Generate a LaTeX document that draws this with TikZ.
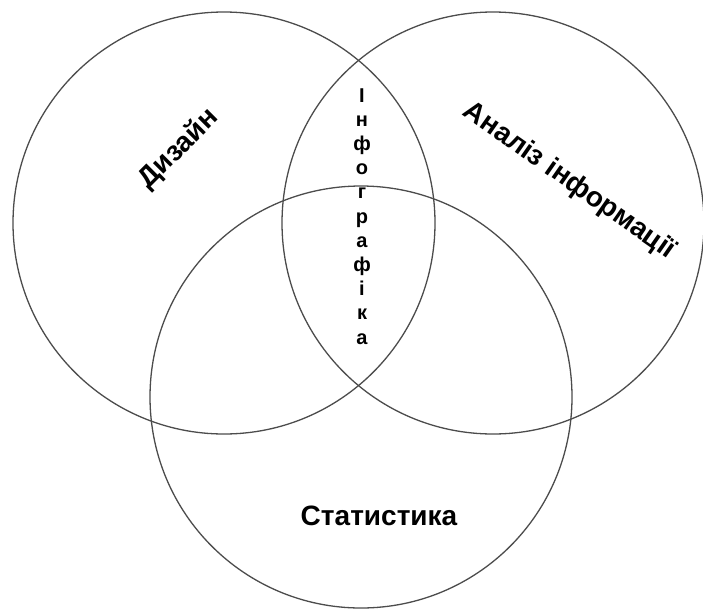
\documentclass[tikz,border=0pt]{standalone}
\usepackage{fontspec}
\setmainfont{Liberation Sans}
\begin{document}
\begin{tikzpicture}[x=1pt,y=-1pt,
  ring/.style={circle,draw=black!70,line width=1.3pt,minimum size=422pt,inner sep=0pt},
  biglabel/.style={font=\fontsize{28}{30}\selectfont\bfseries,inner sep=0pt},
  letter/.style={font=\fontsize{20}{22}\selectfont\bfseries,inner sep=0pt,anchor=base}]
\useasboundingbox (0,0) rectangle (703,608);
\node[ring] (cl) at (224,223) {};
\node[ring] (cr) at (493,223) {};
\node[ring] (cb) at (361,397) {};
\node[biglabel,rotate=45] (design) at (179,149) {Дизайн};
\node[biglabel,rotate=-35] (analysis) at (569,181) {Аналіз інформації};
\node[biglabel] (stat) at (379,516) {Статистика};
\foreach \ch [count=\i from 0] in {І,н,ф,о,г,р,а,ф,і,к,а}
  \node[letter] (l\i) at (362,{102+24.2*\i}) {\ch};
\end{tikzpicture}
\end{document}
